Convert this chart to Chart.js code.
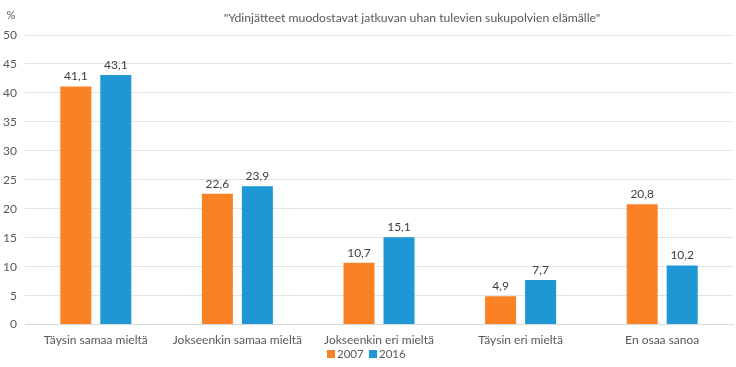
<!DOCTYPE html>
<html>
<head>
<meta charset="utf-8">
<script src="https://cdn.jsdelivr.net/npm/chart.js@4"></script>
<style>
  html, body { margin: 0; padding: 0; background: #fff; }
  #wrap { width: 736px; height: 367px; }
</style>
</head>
<body>
<div id="wrap"><canvas id="myChart" width="736" height="367"></canvas></div>
<script>
var categories = ['Täysin samaa mieltä', 'Jokseenkin samaa mieltä', 'Jokseenkin eri mieltä', 'Täysin eri mieltä', 'En osaa sanoa'];
var values2007 = [41.1, 22.6, 10.7, 4.9, 20.8];
var values2016 = [43.1, 23.9, 15.1, 7.7, 10.2];
var yTicks = [0, 5, 10, 15, 20, 25, 30, 35, 40, 45, 50];
var chartTitle = '"Ydinjätteet muodostavat jatkuvan uhan tulevien sukupolvien elämälle"';

var FONT = 'Lato, "Open Sans", sans-serif';
var TEXT = '#595959';

// numbers above the bars, finnish decimal comma
var valueLabels = {
  id: 'valueLabels',
  afterDatasetsDraw: function(chart) {
    var ctx = chart.ctx;
    ctx.save();
    ctx.font = '12px ' + FONT;
    ctx.fillStyle = '#404040';
    ctx.textAlign = 'center';
    ctx.textBaseline = 'bottom';
    chart.data.datasets.forEach(function(ds, i) {
      chart.getDatasetMeta(i).data.forEach(function(bar, j) {
        ctx.fillText(ds.data[j].toFixed(1).replace('.', ','), bar.x, bar.y - 4);
      });
    });
    ctx.restore();
  }
};

// title, % unit and a compact legend under the axis
var extraText = {
  id: 'extraText',
  afterDraw: function(chart) {
    var ctx = chart.ctx;
    ctx.save();
    ctx.fillStyle = TEXT;
    ctx.font = '12.2px ' + FONT;
    ctx.textAlign = 'center';
    ctx.textBaseline = 'middle';
    ctx.fillText(chartTitle, 412, 18);
    ctx.font = '11px ' + FONT;
    ctx.fillText('%', 11, 15);

    ctx.font = '11.5px ' + FONT;
    ctx.textAlign = 'left';
    var x = 327, y = 354;
    chart.data.datasets.forEach(function(ds) {
      ctx.fillStyle = ds.backgroundColor;
      ctx.fillRect(x, y - 4, 8, 8);
      ctx.fillStyle = TEXT;
      ctx.fillText(ds.label, x + 10, y);
      x += 42;
    });
    ctx.restore();
  }
};

var ctx = document.getElementById('myChart').getContext('2d');
var myChart = new Chart(ctx, {
  type: 'bar',
  data: {
    labels: categories,
    datasets: [{
      label: '2007',
      data: values2007,
      backgroundColor: '#FB8224'
    }, {
      label: '2016',
      data: values2016,
      backgroundColor: '#1E97D4'
    }]
  },
  options: {
    responsive: false,
    animation: false,
    layout: { padding: { left: 0, right: 3, top: 35, bottom: 12 } },
    datasets: {
      bar: { categoryPercentage: 0.565, barPercentage: 0.775 }
    },
    scales: {
      x: {
        grid: { display: false, drawTicks: false },
        border: { color: '#d9d9d9' },
        ticks: { color: TEXT, font: { family: FONT, size: 12 }, padding: 8 }
      },
      y: {
        min: 0,
        max: 50,
        afterBuildTicks: function(scale) {
          scale.ticks = yTicks.map(function(v) { return { value: v }; });
        },
        afterFit: function(scale) { scale.width = 25; },
        grid: { color: '#e3e3e3', drawTicks: false },
        border: { display: false },
        ticks: { color: TEXT, font: { family: FONT, size: 12 }, padding: 8 }
      }
    },
    plugins: {
      legend: { display: false },
      title: { display: false },
      tooltip: { enabled: false }
    }
  },
  plugins: [valueLabels, extraText]
});
</script>
</body>
</html>
